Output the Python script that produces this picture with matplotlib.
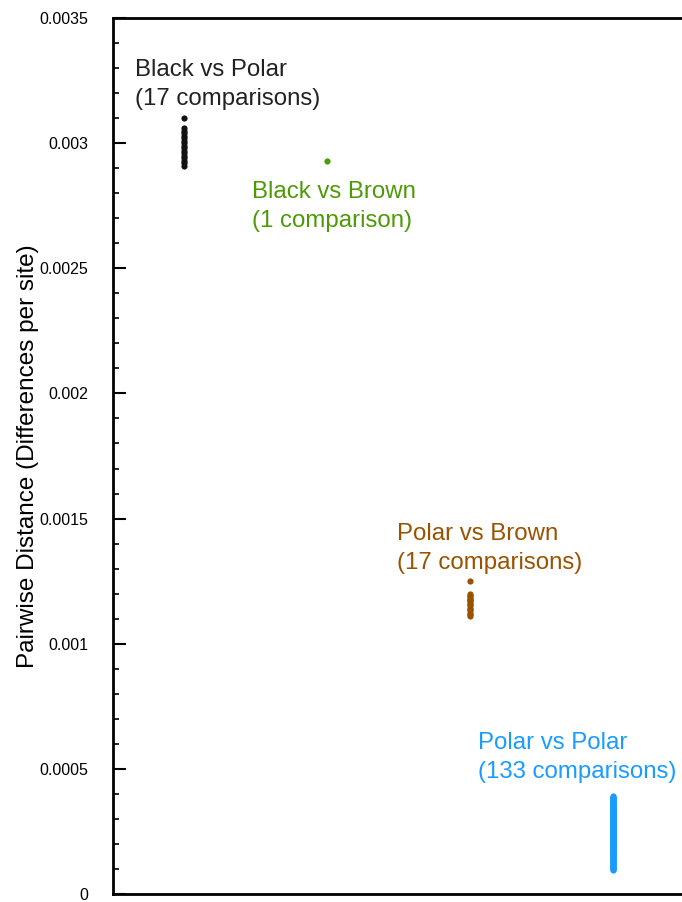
import matplotlib
matplotlib.use("Agg")
import matplotlib.pyplot as plt
from matplotlib.ticker import MultipleLocator

plt.rcParams['font.family'] = ['Liberation Sans', 'DejaVu Sans']

# pairwise distances (differences per site)
black_polar = [0.00310, 0.00306, 0.00305, 0.00304, 0.00303, 0.00302, 0.00301, 0.00300,
               0.00299, 0.00298, 0.00297, 0.00296, 0.00295, 0.00294, 0.00293, 0.00292,
               0.00291]
black_brown = [0.00293]
polar_brown = [0.00125, 0.00120, 0.00119, 0.00119, 0.00118, 0.00118, 0.00117, 0.00117,
               0.00116, 0.00116, 0.00115, 0.00114, 0.00114, 0.00113, 0.00112, 0.00112,
               0.00111]
polar_polar = [
    0.000392, 0.000388, 0.000385, 0.000382, 0.000380, 0.000378, 0.000375, 0.000372, 0.000370, 0.000368,
    0.000365, 0.000363, 0.000360, 0.000358, 0.000356, 0.000353, 0.000351, 0.000349, 0.000347, 0.000345,
    0.000342, 0.000340, 0.000338, 0.000336, 0.000334, 0.000331, 0.000329, 0.000327, 0.000325, 0.000323,
    0.000320, 0.000318, 0.000316, 0.000314, 0.000312, 0.000310, 0.000308, 0.000306, 0.000304, 0.000302,
    0.000300, 0.000298, 0.000296, 0.000294, 0.000292, 0.000290, 0.000288, 0.000286, 0.000284, 0.000282,
    0.000280, 0.000278, 0.000276, 0.000274, 0.000272, 0.000270, 0.000268, 0.000266, 0.000264, 0.000262,
    0.000260, 0.000258, 0.000256, 0.000254, 0.000252, 0.000250, 0.000248, 0.000246, 0.000244, 0.000242,
    0.000240, 0.000238, 0.000236, 0.000234, 0.000232, 0.000230, 0.000228, 0.000226, 0.000224, 0.000222,
    0.000220, 0.000218, 0.000216, 0.000214, 0.000212, 0.000210, 0.000208, 0.000206, 0.000204, 0.000202,
    0.000200, 0.000198, 0.000196, 0.000194, 0.000192, 0.000190, 0.000188, 0.000186, 0.000184, 0.000182,
    0.000180, 0.000178, 0.000176, 0.000174, 0.000172, 0.000170, 0.000168, 0.000166, 0.000163, 0.000161,
    0.000158, 0.000156, 0.000153, 0.000151, 0.000148, 0.000146, 0.000143, 0.000140, 0.000137, 0.000134,
    0.000131, 0.000128, 0.000125, 0.000122, 0.000119, 0.000116, 0.000113, 0.000110, 0.000107, 0.000104,
    0.000101, 0.000098, 0.000096,
]

groups = [black_polar, black_brown, polar_brown, polar_polar]
labels = ["Black vs Polar\n(17 comparisons)", "Black vs Brown\n(1 comparison)",
          "Polar vs Brown\n(17 comparisons)", "Polar vs Polar\n(133 comparisons)"]
colors = ["#111111", "#4e9a06", "#995200", "#1a9cff"]
text_colors = ["#222222", "#4e9a06", "#995200", "#1a9cff"]
# label anchor (x, y top) in data units
label_pos = [(0.654, 0.003336), (1.472, 0.002849), (2.486, 0.001482), (3.052, 0.000647)]

yticks = [0, 0.0005, 0.001, 0.0015, 0.002, 0.0025, 0.003, 0.0035]
ytick_labels = ["0", "0.0005", "0.001", "0.0015", "0.002", "0.0025", "0.003", "0.0035"]

fig = plt.figure(figsize=(6.82, 9.02), dpi=100)
ax = fig.add_axes([113/682, 8/902, 571.5/682, 876/902])

for i, (vals, col) in enumerate(zip(groups, colors)):
    ax.scatter([i + 1] * len(vals), vals, s=20, color=col, linewidths=0, zorder=3)

for (tx, ty), lab, col in zip(label_pos, labels, text_colors):
    ax.text(tx, ty, lab, color=col, fontsize=17.3, ha="left", va="top", linespacing=1.42)

ax.set_xlim(0.5, 4.5)
ax.set_ylim(0, 0.0035)
ax.set_xticks([])
ax.set_yticks(yticks)
ax.set_yticklabels(ytick_labels)
ax.yaxis.set_minor_locator(MultipleLocator(0.0001))
ax.tick_params(axis="y", which="major", direction="in", length=9, width=1.5, labelsize=11.5, pad=18)
ax.tick_params(axis="y", which="minor", direction="in", length=4, width=1.2)
for s in ax.spines.values():
    s.set_linewidth(2)
ax.set_ylabel("Pairwise Distance (Differences per site)", fontsize=17.5, labelpad=0)

fig.savefig("out.png", dpi=100)
